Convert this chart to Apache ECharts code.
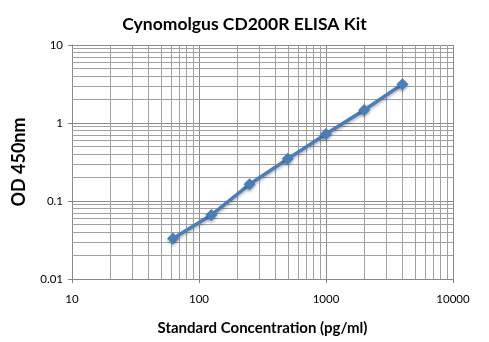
<!DOCTYPE html>
<html><head><meta charset="utf-8">
<script src="https://cdn.jsdelivr.net/npm/echarts@6/dist/echarts.min.js"></script>
<style>html,body{margin:0;padding:0;background:#fff}#c{width:489px;height:342px}</style>
</head><body><div id="c"></div>
<script>
var title = 'Cynomolgus CD200R ELISA Kit';
var xTitle = 'Standard Concentration (pg/ml)';
var yTitle = 'OD 450nm';
var concentrations = [62.5, 125, 250, 500, 1000, 2000, 4000];
var odValues = [0.033, 0.066, 0.164, 0.347, 0.724, 1.47, 3.15];
var xMinorGrid = [20,30,40,50,60,70,80,90,200,300,400,500,600,700,800,900,2000,3000,4000,5000,6000,7000,8000,9000];
var yMinorGrid = [0.02,0.03,0.04,0.05,0.06,0.07,0.08,0.09,0.2,0.3,0.4,0.5,0.6,0.7,0.8,0.9,2,3,4,5,6,7,8,9];

var font = 'Lato, "Open Sans", sans-serif';
var chart = echarts.init(document.getElementById('c'));
var minorLines = xMinorGrid.map(function(v){return {xAxis:v};})
  .concat(yMinorGrid.map(function(v){return {yAxis:v};}));
chart.setOption({
  animation:false,
  title:{text:title,left:'center',top:10,textStyle:{fontFamily:font,fontSize:17.5,fontWeight:'bold',color:'#000'}},
  grid:{left:72,right:36,top:45,bottom:63},
  xAxis:{type:'log',logBase:10,min:10,max:10000,
    name:xTitle,nameLocation:'middle',nameGap:42,
    nameTextStyle:{fontFamily:font,fontSize:15,fontWeight:'bold',color:'#000'},
    axisLine:{lineStyle:{color:'#888'}},
    axisTick:{show:true,inside:false,length:4,lineStyle:{color:'#888'}},
    axisLabel:{fontFamily:font,fontSize:11.5,color:'#000',margin:14,
      formatter:function(v){return String(v);}},
    splitLine:{show:true,lineStyle:{color:'#8a8a8a',width:1}}},
  yAxis:{type:'log',logBase:10,min:0.01,max:10,
    name:yTitle,nameLocation:'middle',nameGap:44,nameRotate:90,
    nameTextStyle:{fontFamily:font,fontSize:18,fontWeight:'bold',color:'#000'},
    axisLine:{show:true,lineStyle:{color:'#888'}},
    axisTick:{show:true,inside:false,length:4,lineStyle:{color:'#888'}},
    axisLabel:{fontFamily:font,fontSize:11.5,color:'#000',margin:9,
      formatter:function(v){return String(v);}},
    splitLine:{show:true,lineStyle:{color:'#8a8a8a',width:1}}},
  series:[{type:'line',data:concentrations.map(function(c,i){return [c,odValues[i]];}),
    symbol:'diamond',symbolSize:12,
    lineStyle:{color:'#4A7EBB',width:3.5,shadowColor:'rgba(0,0,0,0.3)',shadowBlur:3,shadowOffsetY:2},
    itemStyle:{color:'#4A7EBB',shadowColor:'rgba(0,0,0,0.3)',shadowBlur:3,shadowOffsetY:2},
    markLine:{silent:true,symbol:'none',label:{show:false},animation:false,
      lineStyle:{color:'#a0a0a0',width:1,type:'solid'},data:minorLines},
    z:5}]
});
</script></body></html>
